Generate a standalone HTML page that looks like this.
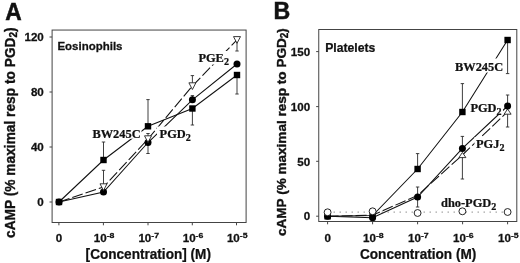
<!DOCTYPE html>
<html><head><meta charset="utf-8"><title>cAMP responses</title>
<style>
html,body{margin:0;padding:0;background:#fff;}
svg{display:block;will-change:transform;filter:grayscale(1);}
</style></head>
<body>
<svg width="520" height="263" viewBox="0 0 520 263">
<rect width="520" height="263" fill="#fff"/>
<rect x="52.1" y="30.05" width="194.0" height="192.45" fill="none" stroke="#444" stroke-width="1"/>
<line x1="49.5" y1="37" x2="52.1" y2="37" stroke="#444" stroke-width="1"/>
<line x1="49.5" y1="92" x2="52.1" y2="92" stroke="#444" stroke-width="1"/>
<line x1="49.5" y1="147" x2="52.1" y2="147" stroke="#444" stroke-width="1"/>
<line x1="49.5" y1="202" x2="52.1" y2="202" stroke="#444" stroke-width="1"/>
<line x1="58.9" y1="222.5" x2="58.9" y2="225.3" stroke="#444" stroke-width="1"/>
<line x1="103.4" y1="222.5" x2="103.4" y2="225.3" stroke="#444" stroke-width="1"/>
<line x1="148.0" y1="222.5" x2="148.0" y2="225.3" stroke="#444" stroke-width="1"/>
<line x1="192.3" y1="222.5" x2="192.3" y2="225.3" stroke="#444" stroke-width="1"/>
<line x1="236.5" y1="222.5" x2="236.5" y2="225.3" stroke="#444" stroke-width="1"/>
<text transform="translate(5.2,20.1) scale(0.9259,1)" font-family="'Liberation Sans', Arial, Helvetica, sans-serif" font-size="24.62" font-weight="bold" text-anchor="start" fill="#111" stroke="#111" stroke-width="0.5">A</text>
<text transform="translate(43.8,41.2) scale(1.1364,1)" font-family="'Liberation Sans', Arial, Helvetica, sans-serif" font-size="10.21" font-weight="bold" text-anchor="end" fill="#111" stroke="#111" stroke-width="0.25">120</text>
<text transform="translate(43.8,96.2) scale(1.1364,1)" font-family="'Liberation Sans', Arial, Helvetica, sans-serif" font-size="10.21" font-weight="bold" text-anchor="end" fill="#111" stroke="#111" stroke-width="0.25">80</text>
<text transform="translate(43.8,151.2) scale(1.1364,1)" font-family="'Liberation Sans', Arial, Helvetica, sans-serif" font-size="10.21" font-weight="bold" text-anchor="end" fill="#111" stroke="#111" stroke-width="0.25">40</text>
<text transform="translate(43.8,206.2) scale(1.1364,1)" font-family="'Liberation Sans', Arial, Helvetica, sans-serif" font-size="10.21" font-weight="bold" text-anchor="end" fill="#111" stroke="#111" stroke-width="0.25">0</text>
<text transform="translate(58.9,242.2) scale(1.1364,1)" font-family="'Liberation Sans', Arial, Helvetica, sans-serif" font-size="10.21" font-weight="bold" text-anchor="middle" fill="#111" stroke="#111" stroke-width="0.25">0</text>
<text transform="translate(93.80000000000001,242.2) scale(1.1364,1)" font-family="'Liberation Sans', Arial, Helvetica, sans-serif" font-size="10.21" font-weight="bold" text-anchor="start" fill="#111" stroke="#111" stroke-width="0.25">10<tspan font-size="7.7" dy="-3.8">-8</tspan></text>
<text transform="translate(138.4,242.2) scale(1.1364,1)" font-family="'Liberation Sans', Arial, Helvetica, sans-serif" font-size="10.21" font-weight="bold" text-anchor="start" fill="#111" stroke="#111" stroke-width="0.25">10<tspan font-size="7.7" dy="-3.8">-7</tspan></text>
<text transform="translate(182.70000000000002,242.2) scale(1.1364,1)" font-family="'Liberation Sans', Arial, Helvetica, sans-serif" font-size="10.21" font-weight="bold" text-anchor="start" fill="#111" stroke="#111" stroke-width="0.25">10<tspan font-size="7.7" dy="-3.8">-6</tspan></text>
<text transform="translate(226.9,242.2) scale(1.1364,1)" font-family="'Liberation Sans', Arial, Helvetica, sans-serif" font-size="10.21" font-weight="bold" text-anchor="start" fill="#111" stroke="#111" stroke-width="0.25">10<tspan font-size="7.7" dy="-3.8">-5</tspan></text>
<text transform="translate(85.6,259) scale(0.9709,1)" font-family="'Liberation Sans', Arial, Helvetica, sans-serif" font-size="14.01" font-weight="bold" text-anchor="start" fill="#111" stroke="#111" stroke-width="0.25">[Concentration] (M)</text>
<text transform="translate(57.4,50.2) scale(1.0101,1)" font-family="'Liberation Sans', Arial, Helvetica, sans-serif" font-size="11.38" font-weight="bold" text-anchor="start" fill="#111" stroke="#111" stroke-width="0.25">Eosinophils</text>
<text transform="translate(15.0,238) rotate(-90)" font-family="'Liberation Sans', Arial, Helvetica, sans-serif" font-size="13.74" font-weight="bold" fill="#111" stroke="#111" stroke-width="0.35">cAMP (% maximal resp to PGD<tspan font-size="10" dy="1.8">2</tspan><tspan dy="-1.8">)</tspan></text>
<polyline points="59,202 103.5,160 148,126.3 192.4,108.5 237,75" fill="none" stroke="#111" stroke-width="1.05"/>
<polyline points="59,202 103.5,192 148,142.5 192.4,99.8 237,64" fill="none" stroke="#111" stroke-width="1.05"/>
<polyline points="59,202 103.5,187 148,139 192.4,86 237,39.8" fill="none" stroke="#111" stroke-width="1.05" stroke-dasharray="11 3"/>
<rect x="196" y="51" width="35" height="13.5" fill="#fff"/>
<rect x="90" y="127" width="51.5" height="11.699999999999989" fill="#fff"/>
<rect x="157" y="126.5" width="33" height="14.5" fill="#fff"/>
<path d="M103.5 160V142M101.8 142H105.2" fill="none" stroke="#2a2a2a" stroke-width="0.9"/>
<path d="M148 126V99.6M146.3 99.6H149.7" fill="none" stroke="#2a2a2a" stroke-width="0.9"/>
<path d="M192.4 108V125M190.70000000000002 125H194.1" fill="none" stroke="#2a2a2a" stroke-width="0.9"/>
<path d="M237 75V94M235.3 94H238.7" fill="none" stroke="#2a2a2a" stroke-width="0.9"/>
<path d="M148 142V153.5M146.3 153.5H149.7" fill="none" stroke="#2a2a2a" stroke-width="0.9"/>
<path d="M192.4 99V95.6M190.70000000000002 95.6H194.1" fill="none" stroke="#2a2a2a" stroke-width="0.9"/>
<path d="M103.5 187V170.3M101.8 170.3H105.2" fill="none" stroke="#2a2a2a" stroke-width="0.9"/>
<path d="M148 139V133.5M146.3 133.5H149.7" fill="none" stroke="#2a2a2a" stroke-width="0.9"/>
<path d="M192.4 86V75.6M190.70000000000002 75.6H194.1" fill="none" stroke="#2a2a2a" stroke-width="0.9"/>
<path d="M237 39V51M235.3 51H238.7" fill="none" stroke="#2a2a2a" stroke-width="0.9"/>
<circle cx="59" cy="202" r="3.5" fill="#000"/>
<circle cx="103.5" cy="192" r="3.5" fill="#000"/>
<circle cx="148" cy="142.5" r="3.5" fill="#000"/>
<circle cx="192.4" cy="99.8" r="3.5" fill="#000"/>
<circle cx="237" cy="64" r="3.5" fill="#000"/>
<rect x="55.8" y="198.8" width="6.4" height="6.4" fill="#000"/>
<rect x="100.3" y="156.8" width="6.4" height="6.4" fill="#000"/>
<rect x="144.8" y="123.1" width="6.4" height="6.4" fill="#000"/>
<rect x="189.20000000000002" y="105.3" width="6.4" height="6.4" fill="#000"/>
<rect x="233.8" y="71.8" width="6.4" height="6.4" fill="#000"/>
<path d="M100.0 183.8H107.0L103.5 190.5Z" fill="#fff" stroke="#222" stroke-width="0.9" stroke-linejoin="miter"/>
<path d="M144.5 135.8H151.5L148 142.5Z" fill="#fff" stroke="#222" stroke-width="0.9" stroke-linejoin="miter"/>
<path d="M188.9 82.8H195.9L192.4 89.5Z" fill="#fff" stroke="#222" stroke-width="0.9" stroke-linejoin="miter"/>
<path d="M233.5 36.599999999999994H240.5L237 43.3Z" fill="#fff" stroke="#222" stroke-width="0.9" stroke-linejoin="miter"/>
<text transform="translate(198.4,61.6) scale(0.9174,1)" font-family="'Liberation Serif', 'Times New Roman', Times, serif" font-size="13.52" font-weight="bold" text-anchor="start" fill="#111" stroke="#111" stroke-width="0.25">PGE<tspan font-size="11" dy="3">2</tspan></text>
<text transform="translate(159.6,138) scale(0.9174,1)" font-family="'Liberation Serif', 'Times New Roman', Times, serif" font-size="13.52" font-weight="bold" text-anchor="start" fill="#111" stroke="#111" stroke-width="0.25">PGD<tspan font-size="11" dy="3">2</tspan></text>
<text transform="translate(92.4,138) scale(0.9174,1)" font-family="'Liberation Serif', 'Times New Roman', Times, serif" font-size="13.52" font-weight="bold" text-anchor="start" fill="#111" stroke="#111" stroke-width="0.25">BW245C</text>
<rect x="318.75" y="29.5" width="198.04999999999995" height="192.0" fill="none" stroke="#444" stroke-width="1"/>
<line x1="316.15" y1="51.6" x2="318.75" y2="51.6" stroke="#444" stroke-width="1"/>
<line x1="316.15" y1="106.6" x2="318.75" y2="106.6" stroke="#444" stroke-width="1"/>
<line x1="316.15" y1="161.3" x2="318.75" y2="161.3" stroke="#444" stroke-width="1"/>
<line x1="316.15" y1="216.2" x2="318.75" y2="216.2" stroke="#444" stroke-width="1"/>
<line x1="327.6" y1="221.5" x2="327.6" y2="224.3" stroke="#444" stroke-width="1"/>
<line x1="372.6" y1="221.5" x2="372.6" y2="224.3" stroke="#444" stroke-width="1"/>
<line x1="417.6" y1="221.5" x2="417.6" y2="224.3" stroke="#444" stroke-width="1"/>
<line x1="462.6" y1="221.5" x2="462.6" y2="224.3" stroke="#444" stroke-width="1"/>
<line x1="507.6" y1="221.5" x2="507.6" y2="224.3" stroke="#444" stroke-width="1"/>
<text transform="translate(273.4,19.0) scale(0.9804,1)" font-family="'Liberation Sans', Arial, Helvetica, sans-serif" font-size="23.66" font-weight="bold" text-anchor="start" fill="#111" stroke="#111" stroke-width="0.5">B</text>
<text transform="translate(310.2,55.800000000000004) scale(1.1364,1)" font-family="'Liberation Sans', Arial, Helvetica, sans-serif" font-size="10.21" font-weight="bold" text-anchor="end" fill="#111" stroke="#111" stroke-width="0.25">150</text>
<text transform="translate(310.2,110.8) scale(1.1364,1)" font-family="'Liberation Sans', Arial, Helvetica, sans-serif" font-size="10.21" font-weight="bold" text-anchor="end" fill="#111" stroke="#111" stroke-width="0.25">100</text>
<text transform="translate(310.2,165.5) scale(1.1364,1)" font-family="'Liberation Sans', Arial, Helvetica, sans-serif" font-size="10.21" font-weight="bold" text-anchor="end" fill="#111" stroke="#111" stroke-width="0.25">50</text>
<text transform="translate(310.2,220.39999999999998) scale(1.1364,1)" font-family="'Liberation Sans', Arial, Helvetica, sans-serif" font-size="10.21" font-weight="bold" text-anchor="end" fill="#111" stroke="#111" stroke-width="0.25">0</text>
<text transform="translate(327.6,242.2) scale(1.1364,1)" font-family="'Liberation Sans', Arial, Helvetica, sans-serif" font-size="10.21" font-weight="bold" text-anchor="middle" fill="#111" stroke="#111" stroke-width="0.25">0</text>
<text transform="translate(363.0,242.2) scale(1.1364,1)" font-family="'Liberation Sans', Arial, Helvetica, sans-serif" font-size="10.21" font-weight="bold" text-anchor="start" fill="#111" stroke="#111" stroke-width="0.25">10<tspan font-size="7.7" dy="-3.8">-8</tspan></text>
<text transform="translate(408.0,242.2) scale(1.1364,1)" font-family="'Liberation Sans', Arial, Helvetica, sans-serif" font-size="10.21" font-weight="bold" text-anchor="start" fill="#111" stroke="#111" stroke-width="0.25">10<tspan font-size="7.7" dy="-3.8">-7</tspan></text>
<text transform="translate(453.0,242.2) scale(1.1364,1)" font-family="'Liberation Sans', Arial, Helvetica, sans-serif" font-size="10.21" font-weight="bold" text-anchor="start" fill="#111" stroke="#111" stroke-width="0.25">10<tspan font-size="7.7" dy="-3.8">-6</tspan></text>
<text transform="translate(498.0,242.2) scale(1.1364,1)" font-family="'Liberation Sans', Arial, Helvetica, sans-serif" font-size="10.21" font-weight="bold" text-anchor="start" fill="#111" stroke="#111" stroke-width="0.25">10<tspan font-size="7.7" dy="-3.8">-5</tspan></text>
<text transform="translate(360,259) scale(0.9709,1)" font-family="'Liberation Sans', Arial, Helvetica, sans-serif" font-size="14.01" font-weight="bold" text-anchor="start" fill="#111" stroke="#111" stroke-width="0.25">Concentration (M)</text>
<text transform="translate(325.2,52.1) scale(0.9709,1)" font-family="'Liberation Sans', Arial, Helvetica, sans-serif" font-size="12.57" font-weight="bold" text-anchor="start" fill="#111" stroke="#111" stroke-width="0.25">Platelets</text>
<text transform="translate(286.2,236) rotate(-90)" font-family="'Liberation Sans', Arial, Helvetica, sans-serif" font-size="13.55" font-weight="bold" fill="#111" stroke="#111" stroke-width="0.35">cAMP (% maximal resp to PGD<tspan font-size="10" dy="1.8">2</tspan><tspan dy="-1.8">)</tspan></text>
<polyline points="327.6,212.1 507.6,212.1" fill="none" stroke="#666" stroke-width="0.9" stroke-dasharray="1.2 4.8"/>
<polyline points="327.6,216.3 372.6,215.5 417.6,169 462.4,112 507.6,40" fill="none" stroke="#111" stroke-width="1.05"/>
<polyline points="327.6,216.3 372.6,217.7 417.6,197 462.4,148.4 507.6,106" fill="none" stroke="#111" stroke-width="1.05"/>
<polyline points="327.6,216.3 372.6,215.2 417.6,195.4 462.4,155 507.6,111.6" fill="none" stroke="#111" stroke-width="1.05" stroke-dasharray="11 3"/>
<rect x="453" y="58.5" width="52" height="14.0" fill="#fff"/>
<rect x="470" y="101.5" width="33" height="13.0" fill="#fff"/>
<rect x="474.5" y="137" width="30.5" height="14" fill="#fff"/>
<rect x="439" y="196" width="60" height="12" fill="#fff"/>
<path d="M417.6 169V153.6M415.90000000000003 153.6H419.3" fill="none" stroke="#2a2a2a" stroke-width="0.9"/>
<path d="M462.4 112V83.6M460.7 83.6H464.09999999999997" fill="none" stroke="#2a2a2a" stroke-width="0.9"/>
<path d="M507.6 40V73.6M505.90000000000003 73.6H509.3" fill="none" stroke="#2a2a2a" stroke-width="0.9"/>
<path d="M417.6 197V187M415.90000000000003 187H419.3" fill="none" stroke="#2a2a2a" stroke-width="0.9"/>
<path d="M417.6 197V207M415.90000000000003 207H419.3" fill="none" stroke="#2a2a2a" stroke-width="0.9"/>
<path d="M462.4 148V136.4M460.7 136.4H464.09999999999997" fill="none" stroke="#2a2a2a" stroke-width="0.9"/>
<path d="M507.6 106V95M505.90000000000003 95H509.3" fill="none" stroke="#2a2a2a" stroke-width="0.9"/>
<path d="M462.4 155V179M460.7 179H464.09999999999997" fill="none" stroke="#2a2a2a" stroke-width="0.9"/>
<path d="M507.6 112V127M505.90000000000003 127H509.3" fill="none" stroke="#2a2a2a" stroke-width="0.9"/>
<path d="M458.9 157.6H465.9L462.4 152.4Z" fill="#fff" stroke="#222" stroke-width="0.9" stroke-linejoin="miter"/>
<path d="M504.1 114.19999999999999H511.1L507.6 109.0Z" fill="#fff" stroke="#222" stroke-width="0.9" stroke-linejoin="miter"/>
<circle cx="327.6" cy="216.3" r="3.5" fill="#000"/>
<circle cx="372.6" cy="217.7" r="3.5" fill="#000"/>
<circle cx="417.6" cy="197" r="3.5" fill="#000"/>
<circle cx="462.4" cy="148.4" r="3.5" fill="#000"/>
<circle cx="507.6" cy="106" r="3.5" fill="#000"/>
<rect x="324.40000000000003" y="213.10000000000002" width="6.4" height="6.4" fill="#000"/>
<rect x="369.40000000000003" y="212.3" width="6.4" height="6.4" fill="#000"/>
<rect x="414.40000000000003" y="165.8" width="6.4" height="6.4" fill="#000"/>
<rect x="459.2" y="108.8" width="6.4" height="6.4" fill="#000"/>
<rect x="504.40000000000003" y="36.8" width="6.4" height="6.4" fill="#000"/>
<circle cx="327.6" cy="212.3" r="3.45" fill="#fff" stroke="#1a1a1a" stroke-width="0.95"/>
<circle cx="372.6" cy="211.3" r="3.45" fill="#fff" stroke="#1a1a1a" stroke-width="0.95"/>
<circle cx="417.6" cy="213" r="3.45" fill="#fff" stroke="#1a1a1a" stroke-width="0.95"/>
<circle cx="462.4" cy="211.3" r="3.45" fill="#fff" stroke="#1a1a1a" stroke-width="0.95"/>
<circle cx="507.6" cy="212" r="3.45" fill="#fff" stroke="#1a1a1a" stroke-width="0.95"/>
<text transform="translate(455,71) scale(0.9174,1)" font-family="'Liberation Serif', 'Times New Roman', Times, serif" font-size="13.52" font-weight="bold" text-anchor="start" fill="#111" stroke="#111" stroke-width="0.25">BW245C</text>
<text transform="translate(470.4,112) scale(0.9174,1)" font-family="'Liberation Serif', 'Times New Roman', Times, serif" font-size="13.52" font-weight="bold" text-anchor="start" fill="#111" stroke="#111" stroke-width="0.25">PGD<tspan font-size="11" dy="3">2</tspan></text>
<text transform="translate(476,148) scale(0.9174,1)" font-family="'Liberation Serif', 'Times New Roman', Times, serif" font-size="13.52" font-weight="bold" text-anchor="start" fill="#111" stroke="#111" stroke-width="0.25">PGJ<tspan font-size="11" dy="3">2</tspan></text>
<text transform="translate(441,207) scale(0.9174,1)" font-family="'Liberation Serif', 'Times New Roman', Times, serif" font-size="13.52" font-weight="bold" text-anchor="start" fill="#111" stroke="#111" stroke-width="0.25">dho-PGD<tspan font-size="11" dy="3">2</tspan></text>
</svg>
</body></html>
